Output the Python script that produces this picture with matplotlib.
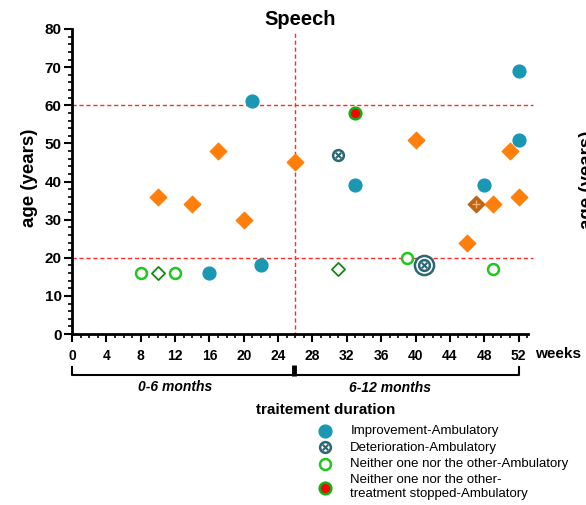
import numpy as np
import matplotlib
matplotlib.use('Agg')
import matplotlib.pyplot as plt

plt.rcParams['font.family'] = ['Liberation Sans', 'DejaVu Sans']

# treatment week / age (years) per patient group
improv_weeks = [16, 21, 22, 33, 48, 52, 52]
improv_age = [16, 61, 18, 39, 39, 51, 69]
deter_weeks = [31, 41]
deter_age = [47, 18]
neither_weeks = [8, 12, 39, 49]
neither_age = [16, 16, 20, 17]
stopped_weeks = [33]
stopped_age = [58]
orange_weeks = [10, 14, 17, 20, 26, 40, 46, 49, 51, 52]
orange_age = [36, 34, 48, 30, 45, 51, 24, 34, 48, 36]
open_diam_weeks = [10, 31]
open_diam_age = [16, 17]
cross_diam_weeks = [47]
cross_diam_age = [34]

age_limits = [20, 60]
split_week = 26
periods = ['0-6 months', '6-12 months']

teal = '#1a98b3'
dark_teal = '#2a6674'
orange = '#ff7f0a'
green = '#1ec81e'
dark_green = '#148a14'
red = '#ff2a2a'

fig = plt.figure(figsize=(5.86, 5.05), dpi=100)
ax = fig.add_axes([72/586, 1-334/505, (528-72)/586, (334-29)/505])

# reference lines
for a in age_limits:
    ax.plot([0, 53.7], [a, a], color=red, lw=1, ls=(0, (3, 2)), clip_on=False, zorder=1)
ax.plot([split_week, split_week], [-0.5, 79], color=red, lw=1, ls=(0, (3, 2)), clip_on=False, zorder=1)

# points
ax.scatter(orange_weeks, orange_age, marker='D', s=70, color=orange, zorder=3)
ax.scatter(cross_diam_weeks, cross_diam_age, marker='D', s=70, color='#c0640f', zorder=3)
ax.scatter(cross_diam_weeks, cross_diam_age, marker='+', s=40, color='#f0b070', lw=1, zorder=4)
ax.scatter(open_diam_weeks, open_diam_age, marker='D', s=45, facecolor='white', edgecolor=dark_green, lw=1.3, zorder=3)
h_imp = ax.scatter(improv_weeks, improv_age, marker='o', s=85, color=teal, zorder=3)
ax.scatter(deter_weeks[1:], deter_age[1:], marker='o', s=190, facecolor='white', edgecolor=dark_teal, lw=1.8, zorder=3)
h_det1 = ax.scatter(deter_weeks, deter_age, marker='o', s=60, facecolor='white', edgecolor=dark_teal, lw=1.8, zorder=4)
h_det2 = ax.scatter(deter_weeks, deter_age, marker='x', s=16, color=dark_teal, lw=1.5, zorder=5)
h_nei = ax.scatter(neither_weeks, neither_age, marker='o', s=62, facecolor='white', edgecolor=green, lw=1.8, zorder=3)
h_stop = ax.scatter(stopped_weeks, stopped_age, marker='o', s=70, facecolor='red', edgecolor='#10b010', lw=1.8, zorder=3)

ax.set_xlim(0, 53.1)
ax.set_ylim(0, 80)
ax.set_xticks(np.arange(0, 53, 4))
ax.set_xticks(np.arange(0, 54, 1), minor=True)
ax.set_yticks(np.arange(0, 81, 10))
ax.set_yticks(np.arange(0, 81, 2), minor=True)
ax.tick_params(which='major', direction='out', length=5.5, width=1.5, color='black')
ax.tick_params(which='minor', direction='out', length=3, width=1.2, color='black')
ax.tick_params(axis='x', labelsize=10, pad=5)
ax.tick_params(axis='y', labelsize=11, pad=2)
for lab in ax.get_xticklabels() + ax.get_yticklabels():
    lab.set_fontweight('bold')
for s in ['top', 'right']:
    ax.spines[s].set_visible(False)
for s in ['left', 'bottom']:
    ax.spines[s].set_linewidth(2)

ax.set_title('Speech', fontsize=14.5, fontweight='bold', pad=3)
fig.text(30/586, 1-178/505, 'age (years)', rotation=90, fontsize=13.5, fontweight='bold', ha='center', va='center')
# y label of the next panel, cut by the figure edge
fig.text(588/586, 1-180/505, 'age (years)', rotation=90, fontsize=13.5, fontweight='bold', ha='center', va='center')

trans = ax.get_xaxis_transform()
ax.text(53.9, -0.064, 'weeks', transform=trans, fontsize=11, fontweight='bold', ha='left', va='center')

# period brackets
yb, yt = -0.134, -0.108
ax.plot([0, 0, split_week - 0.15], [yt, yb, yb], transform=trans, color='black', lw=1.5, clip_on=False)
ax.plot([split_week - 0.15, 52, 52], [yb, yb, yt], transform=trans, color='black', lw=1.5, clip_on=False)
ax.plot([split_week - 0.15, split_week - 0.15], [yb - 0.003, yt + 0.007], transform=trans, color='black', lw=3.5, clip_on=False, solid_capstyle='butt')
ax.text(12, -0.173, periods[0], transform=trans, fontsize=10, fontweight='bold', style='italic', ha='center', va='center')
ax.text(37, -0.178, periods[1], transform=trans, fontsize=10, fontweight='bold', style='italic', ha='center', va='center')
ax.text(29.5, -0.25, 'traitement duration', transform=trans, fontsize=11, fontweight='bold', ha='center', va='center')

handles = [h_imp, (h_det1, h_det2), h_nei, h_stop]
labels = ['Improvement-Ambulatory', 'Deterioration-Ambulatory',
          'Neither one nor the other-Ambulatory',
          'Neither one nor the other-\ntreatment stopped-Ambulatory']
fig.legend(handles, labels, loc='upper left', bbox_to_anchor=(316/586, 1-425/505),
           frameon=False, fontsize=9.5, handlelength=1.4, handletextpad=1.2,
           labelspacing=0.32, borderpad=0, borderaxespad=0)

fig.savefig('out.png', dpi=100)
